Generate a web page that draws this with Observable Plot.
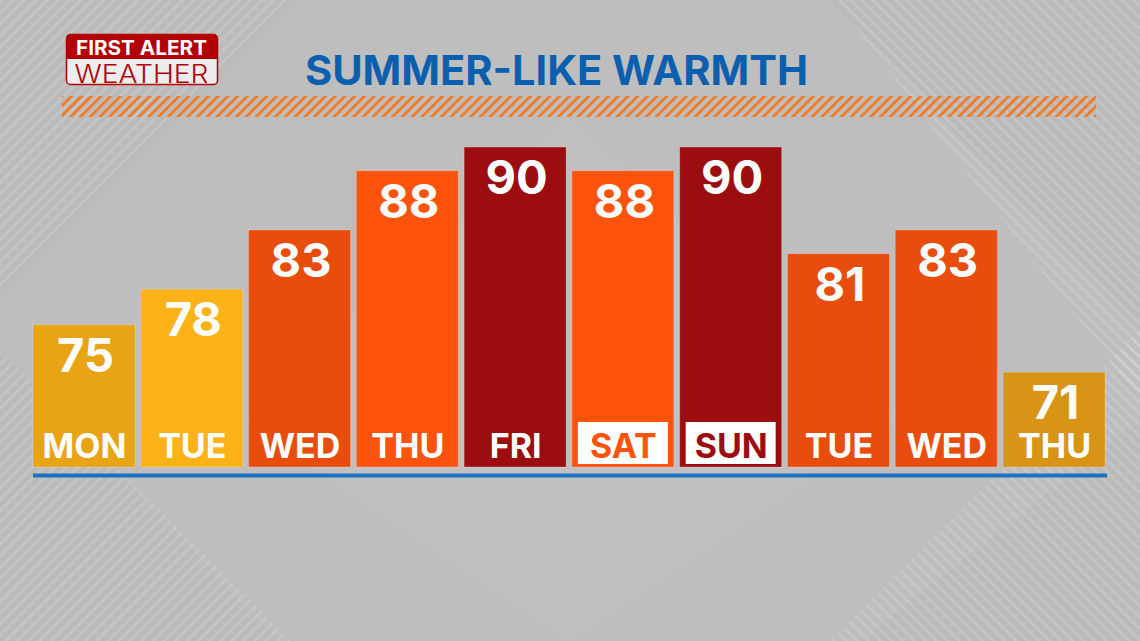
<!DOCTYPE html>
<html>
<head>
<meta charset="utf-8">
<script src="https://cdn.jsdelivr.net/npm/d3@7"></script>
<script src="https://cdn.jsdelivr.net/npm/@observablehq/plot@0.6"></script>
<style>
  html, body { margin: 0; padding: 0; }
  body { width: 1140px; height: 641px; overflow: hidden; font-family: Inter, "Open Sans", sans-serif; }
  #wrap { position: relative; width: 1140px; height: 641px; background: #BBBBBB; overflow: hidden; }
  #bg { position: absolute; left: 0; top: 0; }
  #chart { position: absolute; left: 0; top: 130px; }
  #chart text.val { letter-spacing: 2px; }
</style>
</head>
<body>
<div id="wrap">
  <svg id="bg" width="1140" height="641"></svg>
  <div id="chart"></div>
</div>
<script>
// ---- data ----
const days = ["MON", "TUE", "WED", "THU", "FRI", "SAT", "SUN", "TUE", "WED", "THU"];
const highs = [75, 78, 83, 88, 90, 88, 90, 81, 83, 71];
const highlightedDays = ["SAT", "SUN"];
const titleText = "SUMMER-LIKE WARMTH";
const logoTop = "FIRST ALERT";
const logoBottom = "WEATHER";

// color bands by temperature
const tempThresholds = [73, 77, 80, 85, 89];
const tempColors = ["#D89416", "#E8A414", "#FDB218", "#E94D0E", "#FE530D", "#9C0D0F"];

const data = days.map((day, i) => ({ i, day, high: highs[i], hl: highlightedDays.includes(day) }));
const base = 63;
const labelBox = 3.8;

// ---- background decoration + header ----
const svg = d3.select("#bg");
const defs = svg.append("defs");
function stripePattern(id, angle, color) {
  const p = defs.append("pattern").attr("id", id).attr("patternUnits", "userSpaceOnUse")
    .attr("width", 8).attr("height", 8).attr("patternTransform", `rotate(${angle})`);
  p.append("rect").attr("width", 2.5).attr("height", 8).attr("fill", color);
}
stripePattern("sl", 45, "rgba(255,255,255,0.15)");
stripePattern("bs", -45, "rgba(255,255,255,0.15)");
const hp = defs.append("pattern").attr("id", "hatch").attr("patternUnits", "userSpaceOnUse")
  .attr("width", 6.9).attr("height", 20).attr("patternTransform", "rotate(45)");
hp.append("rect").attr("width", 2.8).attr("height", 20).attr("fill", "#F47A22");

// subtle light panels
svg.append("polygon").attr("points", "300,0 830,0 1140,330 1140,420 860,641 280,641 0,350 0,300").attr("fill", "rgba(255,255,255,0.05)");
svg.append("polygon").attr("points", "570,120 900,420 570,641 240,420").attr("fill", "rgba(255,255,255,0.03)");
// striped corners
svg.append("polygon").attr("points", "0,0 290,0 0,290").attr("fill", "url(#sl)");
svg.append("polygon").attr("points", "0,350 291,641 0,641").attr("fill", "url(#sl)");
svg.append("polygon").attr("points", "835,0 1140,0 1140,400").attr("fill", "url(#bs)");
svg.append("polygon").attr("points", "1140,330 1140,641 830,641").attr("fill", "url(#bs)");

// logo
svg.append("rect").attr("x", 66.5).attr("y", 34.5).attr("width", 151).attr("height", 50).attr("rx", 4)
  .attr("fill", "#EDEDED").attr("stroke", "#B10006").attr("stroke-width", 1.5);
svg.append("path").attr("d", "M66.5,59 V38.5 Q66.5,34.5 70.5,34.5 H213.5 Q217.5,34.5 217.5,38.5 V59 Z").attr("fill", "#B10006");
svg.append("text").attr("x", 141.5).attr("y", 54.5).attr("text-anchor", "middle")
  .attr("font-family", "Inter, sans-serif").attr("font-weight", 700).attr("font-size", 20)
  .attr("textLength", 131).attr("lengthAdjust", "spacingAndGlyphs").attr("fill", "#FFFFFF").text(logoTop);
svg.append("text").attr("x", 141.5).attr("y", 83).attr("text-anchor", "middle")
  .attr("font-family", "Inter, sans-serif").attr("font-weight", 300).attr("font-size", 25)
  .attr("textLength", 134).attr("lengthAdjust", "spacingAndGlyphs").attr("fill", "#B10006").text(logoBottom);

// title
svg.append("text").attr("x", 556.5).attr("y", 85).attr("text-anchor", "middle")
  .attr("font-family", "Inter, sans-serif").attr("font-weight", 700).attr("font-size", 41)
  .attr("textLength", 503).attr("lengthAdjust", "spacingAndGlyphs").attr("fill", "#0B5FAE").text(titleText);

// hatch stripe
svg.append("rect").attr("x", 62).attr("y", 96).attr("width", 1034).attr("height", 21).attr("fill", "url(#hatch)");

// ---- chart ----
const colorOpts = { type: "threshold", domain: tempThresholds, range: tempColors };
const chart = Plot.plot({
  width: 1140,
  height: 511,
  marginTop: 0,
  marginBottom: 174,
  marginLeft: 33,
  marginRight: 35,
  x: { type: "band", domain: data.map(d => d.i), paddingInner: 0.054, paddingOuter: 0, round: false, axis: null },
  y: { domain: [base, 91.44], axis: null },
  color: colorOpts,
  style: { background: "transparent", overflow: "visible", fontFamily: "Inter, sans-serif" },
  marks: [
    Plot.barY(data, { x: "i", y1: base, y2: "high", fill: "high", stroke: "rgba(255,255,255,0.22)", strokeWidth: 1 }),
    Plot.barY(data.filter(d => d.hl), { x: "i", y1: base, y2: base + labelBox, fill: "white", insetLeft: 6, insetRight: 6, insetBottom: 3 }),
    Plot.text(data, { x: "i", y: "high", text: d => String(d.high), fill: "white", fontSize: 47, fontWeight: 700, dy: 31.5, dx: 1, className: "val" }),
    Plot.text(data.filter(d => !d.hl), { x: "i", y: base, text: "day", fill: "white", fontSize: 34, fontWeight: 700, dy: -20.6 }),
    Plot.text(data.filter(d => d.hl), { x: "i", y: base, text: "day", fill: "high", fontSize: 34, fontWeight: 700, dy: -20.6 }),
    Plot.ruleY([base], { stroke: "#1C72BE", strokeWidth: 4, dy: 8, insetRight: -2 })
  ]
});
document.getElementById("chart").appendChild(chart);
</script>
</body>
</html>
